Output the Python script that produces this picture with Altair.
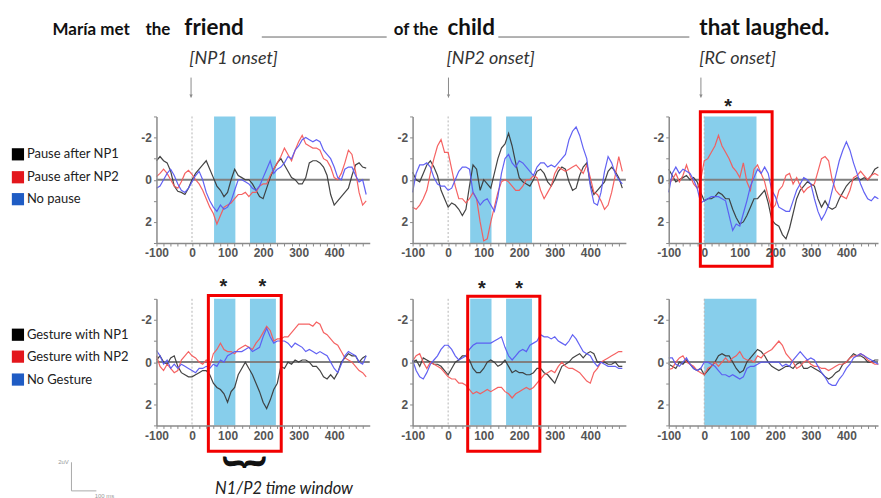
import altair as alt
import pandas as pd

# ---------------- data (µV, negative plotted upward) ----------------
TIME = list(range(-100, 500, 10))  # ms, 60 samples

P1_BLACK = [-0.9, -1.1, -0.9, -0.8, -0.4, 0.3, 0.55, 0.6, 0.7, 0.4,
            0.0, -0.3, -0.5, -0.7, -0.9, -0.5, -0.1, 0.3, 0.5, 0.8,
            0.6, 0.0, -0.5, -0.2, -0.1, 0.0, 0.0, 0.2, 0.5, 0.8,
            0.9, 0.4, -0.1, -0.5, -0.8, -1.0, -0.7, -0.4, -0.1, 0.0,
            0.2, 0.2, -0.1, -0.8, -0.9, -0.9, -0.8, -0.6, -0.2, 0.7,
            1.2, 1.0, 0.8, 0.6, 0.4, -0.2, -0.7, -0.8, -0.6, -0.55]
P1_RED = [-0.15, -0.3, -0.5, -0.3, 0.0, 0.3, 0.4, 0.1, -0.3, -0.45,
          -0.25, 0.0, 0.2, 0.5, 0.9, 1.3, 1.6, 2.1, 1.7, 1.3,
          1.2, 1.1, 0.9, 0.7, 0.7, 0.6, 0.8, 0.6, 0.6, 0.3,
          0.2, 0.2, -0.2, -0.5, -0.8, -1.1, -1.5, -1.2, -0.9, -1.4,
          -1.8, -2.1, -1.7, -1.6, -1.5, -1.5, -1.4, -1.0, -0.9, -0.6,
          -0.1, 0.0, -0.3, -0.8, -1.4, -1.2, -0.4, 0.6, 1.2, 1.0]
P1_BLUE = [0.4, 0.3, 0.0, -0.3, -0.5, -0.2, 0.2, 0.5, 0.6, 0.4,
           0.1, -0.2, -0.4, 0.0, 0.6, 1.0, 1.3, 1.5, 1.2, 1.4,
           1.3, 1.0, 0.5, 0.0, 0.0, 0.1, 0.2, 0.4, 0.5, 0.3,
           -0.1, -0.5, -0.9, -0.3, -0.5, -0.6, -0.8, -1.1, -1.0, -1.4,
           -1.6, -1.9, -2.0, -1.9, -1.8, -1.9, -1.8, -1.4, -1.2, -1.0,
           -0.6, -0.1, 0.0, -0.5, -0.6, -0.6, -0.2, 0.1, 0.0, 0.7]

P2_BLACK = [-0.35, 0.0, 0.1, -0.3, -0.7, -0.9, -0.6, -0.2, 0.5, 0.9,
            1.3, 1.1, 1.2, 1.4, 1.7, 1.4, 0.3, -0.7, -0.5, 0.5,
            0.0, 0.2, 0.4, -0.3, -1.0, -1.5, -1.7, -2.2, -1.6, -0.8,
            -0.1, 0.1, 0.2, 0.3, 0.0, -0.4, -0.5, -0.3, 0.1, 0.3,
            0.0, -0.4, -0.6, -0.5, 0.1, 0.5, 0.4, -0.2, -0.6, -0.8,
            0.2, 0.7, 0.5, 0.3, 0.1, -0.4, -0.6, -0.4, -0.1, 0.4]
P2_RED = [1.3, 1.4, 1.2, 0.9, 0.5, -0.3, -1.0, -1.6, -1.9, -1.3,
          -1.3, -0.5, 0.3, 0.9, 0.9, 1.1, 0.9, 0.6, 0.9, 2.0,
          2.9, 2.8, 2.0, 1.3, 0.6, 0.1, 0.0, 0.1, 0.3, 0.5,
          0.5, 0.3, 0.0, 0.0, -0.2, -0.1, 0.5, 0.9, 0.6, 0.3,
          -0.3, -0.6, -0.5, -0.4, -0.5, -0.6, -0.7, -0.5, -0.3, -0.7,
          -0.1, 0.6, 0.7, 1.0, 1.4, 1.2, 0.6, -0.2, -1.1, -0.4]
P2_BLUE = [0.6, -0.3, -0.7, -0.7, -0.8, -0.6, -0.1, 0.2, 0.3, 0.3,
           0.5, 0.4, 0.0, -0.4, -0.6, -0.6, -0.5, 0.6, 0.9, 1.2,
           1.0, 0.9, 1.2, 1.5, 0.8, -0.3, -1.0, -1.2, -0.8, -0.6,
           -0.9, -0.8, -0.6, -0.4, -0.2, -0.6, -0.8, -0.8, -0.6, -0.7,
           -0.6, -0.8, -1.0, -1.2, -1.9, -2.3, -2.5, -2.1, -1.5, -1.0,
           0.3, 1.1, 1.2, 0.6, -0.4, -1.1, -0.8, -0.3, 0.0, 0.2]

P3_BLACK = [-0.5, -0.2, 0.1, 0.0, -0.1, -0.2, 0.0, -0.1, 0.1, 0.6,
            1.0, 0.9, 0.9, 0.8, 0.6, 0.7, 0.9, 0.9, 1.4, 1.8,
            2.1, 2.0, 1.7, 1.3, 0.9, 0.9, 0.7, 0.5, 1.1, 1.9,
            2.1, 2.2, 2.6, 2.8, 2.3, 1.6, 0.9, 0.5, 0.3, 0.1,
            0.2, 0.3, 0.9, 1.3, 1.0, 1.3, 1.4, 1.3, 0.9, 0.6,
            0.3, 0.1, 0.0, -0.1, 0.0, -0.1, 0.0, -0.2, -0.5, -0.6]
P3_RED = [0.2, 0.0, -0.3, 0.1, -0.2, -0.7, -0.2, 0.2, 0.4, 0.0,
          -0.9, -1.0, -1.3, -1.6, -2.1, -1.6, -1.3, -1.0, -0.6, -0.4,
          -0.1, -0.8, 0.1, 0.5, -0.5, -0.7, -0.3, 0.1, 0.8, 1.4,
          1.2, 0.5, 0.3, -0.2, -0.3, 0.2, -0.1, 0.3, 0.6, 0.4,
          0.3, 0.2, -0.4, -1.0, -1.1, -0.9, 0.0, 0.5, 0.7, 0.8,
          0.9, 0.5, -0.1, -0.2, -0.4, -0.2, 0.0, -0.2, -0.3, -0.2]
P3_BLUE = [0.6, -0.3, -0.6, -0.3, -0.5, -0.4, -0.3, 0.0, 0.4, 1.1,
           1.0, 0.9, 0.8, 0.8, 0.8, 0.9, 1.0, 1.7, 2.4, 2.1,
           2.2, 1.6, 1.0, 0.3, -0.1, -0.5, -0.3, -0.6, -0.3, 0.5,
           0.8, 1.3, 1.4, 1.5, 1.5, 1.0, 0.5, 0.2, -0.1, 0.0,
           0.2, 0.9, 1.5, 1.9, 1.6, 1.2, 0.5, -0.2, -0.9, -1.4,
           -1.8, -1.4, -0.8, -0.3, 0.2, 0.6, 0.9, 1.0, 0.8, 0.9]

P4_BLACK = [-0.1, -0.3, 0.0, 0.1, -0.2, -0.3, 0.2, 0.5, 0.6, 0.7,
            0.7, 0.6, 0.5, 0.4, 0.4, 0.6, 1.0, 1.2, 1.3, 1.5,
            1.9, 1.4, 1.2, 0.6, 0.3, 0.0, 0.3, 0.6, 1.0, 1.4,
            1.9, 2.2, 1.8, 1.3, 1.0, 0.2, 0.3, 0.0, 0.1, -0.1,
            0.0, -0.1, -0.1, 0.0, 0.2, 0.2, 0.4, 0.7, 0.8, 0.6,
            0.8, 0.5, 0.0, -0.2, -0.4, -0.3, -0.3, 0.0, -0.2, -0.3]
P4_RED = [-0.3, 0.2, 0.4, 0.1, 0.3, 0.5, 0.4, -0.1, -0.3, -0.5,
          -0.3, -0.2, 0.0, 0.1, -0.1, 0.2, -0.4, -0.6, -0.9, -0.6,
          -0.5, -0.5, -0.4, -0.6, -0.7, -0.8, -0.7, -0.6, -0.9, -1.1,
          -1.4, -1.7, -1.5, -1.0, -1.1, -1.1, -1.2, -1.2, -1.4, -1.6,
          -1.8, -1.8, -1.8, -1.8, -1.7, -1.9, -1.8, -1.4, -1.3, -1.1,
          -0.9, -0.8, -0.5, -0.2, -0.1, 0.0, 0.2, 0.4, 0.5, 0.7]
P4_BLUE = [-0.55, -0.3, 0.1, -0.1, 0.3, 0.1, 0.3, 0.1, 0.2, 0.3,
           0.4, 0.5, 0.3, 0.3, 0.2, 0.3, 0.1, 0.2, -0.1, 0.0,
           -0.3, -0.4, -0.5, -0.5, -0.5, -0.6, -0.7, -0.5, -0.6, -0.7,
           -1.2, -1.6, -1.2, -0.9, -1.0, -1.0, -1.0, -0.9, -0.7, -0.9,
           -0.8, -0.7, -0.5, -0.6, -0.5, -0.4, -0.5, -0.4, -0.3, 0.0,
           0.3, 0.5, 0.1, -0.3, -0.5, -0.4, -0.3, 0.0, 0.1, -0.3]

P5_BLACK = [0.0, -0.1, 0.2, -0.2, -0.1, 0.0, 0.1, 0.1, 0.2, 0.4,
            0.6, 0.3, 0.0, -0.1, -0.3, -0.3, -0.1, 0.3, 0.5, 0.5,
            0.3, 0.0, -0.1, 0.0, 0.2, 0.1, -0.1, 0.2, 0.5, 0.4,
            0.5, 0.5, 0.6, 0.6, 0.5, 0.3, 0.3, 0.5, 0.6, 0.8,
            1.0, 0.6, 0.2, 0.1, 0.0, -0.2, -0.3, -0.4, -0.2, -0.4,
            -0.5, -0.4, 0.0, 0.0, 0.0, 0.1, 0.1, 0.0, 0.2, 0.2]
P5_RED = [-0.05, -0.3, -0.4, 0.0, 0.3, 0.0, 0.1, 0.2, 0.3, 0.5,
          0.7, 0.8, 0.8, 1.0, 1.0, 1.1, 1.3, 1.5, 1.4, 1.5,
          1.4, 1.3, 1.4, 1.3, 1.2, 1.2, 1.4, 1.5, 1.7, 1.5,
          1.4, 1.3, 1.2, 1.3, 1.2, 1.0, 0.8, 0.6, 0.5, 0.4,
          0.5, 0.2, 0.0, 0.2, 0.3, 0.3, 0.4, 0.5, 0.7, 0.9,
          1.0, 0.5, 0.3, 0.0, -0.1, -0.2, -0.3, -0.4, -0.5, -0.5]
P5_BLUE = [-0.1, 0.4, 0.7, 0.8, 0.5, 0.1, -0.1, -0.3, -0.6, -0.8,
           -0.8, -0.6, -0.3, -0.1, -0.2, -0.3, -0.6, -0.8, -0.9, -0.9,
           -0.9, -0.9, -0.9, -1.0, -1.1, -1.2, -0.7, -0.3, -0.1, -0.3,
           -0.5, -0.6, -0.5, -0.8, -0.9, -1.0, -1.3, -1.2, -1.2, -1.1,
           -1.2, -1.0, -0.9, -0.8, -1.0, -1.3, -1.1, -0.8, -0.5, -0.4,
           -0.3, 0.0, 0.2, 0.0, 0.1, 0.2, 0.2, 0.2, 0.3, 0.3]

P6_BLACK = [0.1, 0.2, 0.3, 0.0, 0.1, -0.1, 0.1, 0.3, 0.4, 0.3,
            0.6, 0.4, 0.2, 0.0, -0.3, -0.4, -0.3, -0.3, 0.0, 0.3,
            0.5, 0.4, 0.0, -0.2, -0.4, -0.6, -0.5, -0.3, 0.0, 0.2,
            0.3, 0.4, 0.3, 0.2, 0.2, 0.3, 0.1, 0.0, 0.3, 0.3,
            0.2, 0.3, 0.4, 0.5, 0.7, 0.8, 0.7, 0.5, 0.4, 0.1,
            0.0, -0.2, -0.4, -0.3, -0.3, -0.2, 0.0, 0.0, -0.1, -0.1]
P6_RED = [0.35, 0.3, 0.0, -0.2, -0.3, 0.0, 0.1, 0.2, 0.4, 0.5,
          0.6, 0.3, 0.2, 0.0, 0.2, 0.0, -0.2, 0.0, -0.2, -0.3,
          -0.5, -0.2, -0.1, -0.1, 0.0, -0.3, -0.2, -0.4, -0.5, -0.6,
          -0.8, -1.0, -0.8, -0.4, -0.2, 0.0, 0.3, 0.2, 0.0, -0.1,
          0.1, 0.2, 0.2, 0.3, 0.3, 0.4, 0.3, 0.2, 0.1, 0.1,
          0.0, -0.2, -0.3, -0.3, -0.4, -0.3, -0.1, 0.0, 0.1, 0.1]
P6_BLUE = [-0.2, -0.2, 0.1, 0.2, 0.0, -0.2, 0.1, 0.3, 0.4, 0.3,
           0.0, 0.0, 0.1, 0.2, 0.4, 0.6, 0.6, 0.7, 0.6, 0.7,
           0.8, 0.7, 0.3, 0.2, 0.2, 0.1, 0.0, 0.0, 0.0, 0.0,
           0.0, 0.0, 0.2, 0.1, 0.2, -0.1, -0.3, -0.5, -0.3, -0.1,
           -0.2, -0.1, 0.2, 0.5, 0.7, 1.0, 1.1, 1.1, 0.8, 0.6,
           0.3, 0.1, -0.2, -0.3, -0.4, -0.3, -0.2, -0.1, 0.0, 0.1]

# analysis windows (ms) and significance marks
WINDOWS_NP = [[62, 122], [163, 236]]
WINDOWS_RC = [[0, 147]]
BOX_P3 = [-11, 191, -3.22, 4.1]
BOX_P4 = [46, 251, -3.16, 4.22]
BOX_P5 = [55, 258, -3.12, 4.22]
STARS_P3 = ([67], -3.68)
STARS_P4 = ([88, 198], -3.78)
STARS_P5 = ([95, 200], -3.7)

CONDS = ["c1", "c2", "c3"]
LINE_COLORS = ["#3a3a3a", "#f45a5a", "#5a5af2"]

# text annotations (figure pixel positions)
HEAD_SMALL = ["María met", "the", "of the"]
HEAD_SMALL_X = [52.7, 146, 395]
HEAD_BIG = ["friend", "child", "that laughed."]
HEAD_BIG_X = [185, 449, 701.7]
HEAD_Y = 34.7
ONSETS = ["[NP1 onset]", "[NP2 onset]", "[RC onset]"]
ONSETS_X = [190, 448, 701.7]
ONSETS_Y = 63
ARROWS_X = [191.7, 450, 703.3]
BLANKS_X1 = [262.7, 500]
BLANKS_X2 = [388, 691.7]
BLANK_Y = 36.3
LEG_TOP = ["Pause after NP1", "Pause after NP2", "No pause"]
LEG_TOP_Y = [154, 177, 199]
LEG_BOT = ["Gesture with NP1", "Gesture with NP2", "No Gesture"]
LEG_BOT_Y = [335, 357, 380]
LEG_COLORS = ["#000000", "#e3161c", "#1f5cc4"]

W, WR, H = 214, 210, 127
ORIGIN_P1 = (157, 116)
ORIGIN_P4 = (157, 299)

AXIS_STYLE = dict(title=None, grid=False, domainColor="#8a8a8a", domainWidth=1.5,
                  tickColor="#8a8a8a", tickSize=3, labelColor="#555555",
                  labelFont="Liberation Sans", labelFontSize=12, labelFontWeight="bold",
                  labelPadding=2, labelOverlap=False, zindex=1)
XAX = alt.Axis(values=list(range(-100, 500, 20)),
               labelExpr="datum.value % 100 == 0 ? '' + datum.value : ''",
               labelFlush=False, **AXIS_STYLE)
YAX = alt.Axis(values=[-3, -2, -1, 0, 1, 2, 3],
               labelExpr="datum.value % 2 == 0 ? '' + datum.value : ''", **AXIS_STYLE)


def local(df, origin):
    df = df.copy()
    for c in list(df.columns):
        if c.startswith("fx"):
            df["px" + c[2:]] = df[c] - origin[0]
        if c.startswith("fy"):
            df["py" + c[2:]] = df[c] - origin[1]
    return df


def pix_text(df, **mark):
    return alt.Chart(df).mark_text(**mark).encode(
        x=alt.X("px:Q", scale=None, axis=None),
        y=alt.Y("py:Q", scale=None, axis=None),
        text="txt:N")


def pix_rule(df, **mark):
    return alt.Chart(df).mark_rule(**mark).encode(
        x=alt.X("px:Q", scale=None, axis=None), x2=alt.X2("px2"),
        y=alt.Y("py:Q", scale=None, axis=None), y2=alt.Y2("py2"))


def annotations_top():
    o = ORIGIN_P1
    layers = []
    anchor = local(pd.DataFrame({"fx": [0], "fx2": [881], "fy": [0], "fy2": [498]}), o)
    layers.append(alt.Chart(anchor).mark_rect(opacity=0).encode(
        x=alt.X("px:Q", scale=None, axis=None), x2=alt.X2("px2"),
        y=alt.Y("py:Q", scale=None, axis=None), y2=alt.Y2("py2")))
    small = local(pd.DataFrame({"txt": HEAD_SMALL, "fx": HEAD_SMALL_X, "fy": [HEAD_Y] * 3}), o)
    layers.append(pix_text(small, font="Lato", fontSize=17, fontWeight="bold",
                           align="left", baseline="alphabetic", color="#111111"))
    big = local(pd.DataFrame({"txt": HEAD_BIG, "fx": HEAD_BIG_X, "fy": [HEAD_Y] * 3}), o)
    layers.append(pix_text(big, font="Lato", fontSize=22.5, fontWeight="bold",
                           align="left", baseline="alphabetic", color="#111111"))
    ons = local(pd.DataFrame({"txt": ONSETS, "fx": ONSETS_X, "fy": [ONSETS_Y] * 3}), o)
    layers.append(pix_text(ons, font="Lato", fontSize=18, fontStyle="italic",
                           align="left", baseline="alphabetic", color="#333333"))
    blanks = local(pd.DataFrame({"fx": BLANKS_X1, "fx2": BLANKS_X2,
                                 "fy": [BLANK_Y] * 2, "fy2": [BLANK_Y] * 2}), o)
    layers.append(pix_rule(blanks, color="#666666", strokeWidth=1))
    arrows = local(pd.DataFrame({"fx": ARROWS_X, "fx2": ARROWS_X,
                                 "fy": [77] * 3, "fy2": [97] * 3}), o)
    layers.append(pix_rule(arrows, color="#8a8a8a", strokeWidth=1))
    heads = local(pd.DataFrame({"fx": ARROWS_X, "fy": [95.5] * 3}), o)
    layers.append(alt.Chart(heads).mark_point(shape="triangle-down", filled=True, size=12,
                                               color="#8a8a8a", opacity=1).encode(
        x=alt.X("px:Q", scale=None, axis=None), y=alt.Y("py:Q", scale=None, axis=None)))
    leg = local(pd.DataFrame({"txt": LEG_TOP + LEG_BOT, "fx": [27] * 6,
                              "fy": LEG_TOP_Y + LEG_BOT_Y, "col": LEG_COLORS * 2}), o)
    layers.append(alt.Chart(leg).mark_square(size=150, filled=True, opacity=1).encode(
        x=alt.X("sx:Q", scale=None, axis=None), y=alt.Y("py:Q", scale=None, axis=None),
        color=alt.Color("col:N", scale=None)).transform_calculate(sx="datum.px - 9"))
    layers.append(pix_text(leg, font="Lato", fontSize=13, align="left",
                           baseline="middle", color="#222222"))
    bar = local(pd.DataFrame({"fx": [71.7, 71.7], "fx2": [71.7, 96.7],
                              "fy": [463, 491.7], "fy2": [491.7, 491.7]}), o)
    layers.append(pix_rule(bar, color="#aaaaaa", strokeWidth=1))
    bar_txt = local(pd.DataFrame({"txt": ["2uV"], "fx": [69], "fy": [463]}), o)
    layers.append(pix_text(bar_txt, font="Liberation Sans", fontSize=6, align="right",
                           baseline="middle", color="#999999"))
    bar_txt2 = local(pd.DataFrame({"txt": ["100 ms"], "fx": [95], "fy": [496.5]}), o)
    layers.append(pix_text(bar_txt2, font="Liberation Sans", fontSize=6, align="left",
                           baseline="middle", color="#999999"))
    return layers


def annotations_bottom():
    o = ORIGIN_P4
    brace = local(pd.DataFrame({"txt": ["}"], "fx": [245], "fy": [463]}), o)
    txt = local(pd.DataFrame({"txt": ["N1/P2 time window"], "fx": [285], "fy": [495]}), o)
    return [
        pix_text(brace, font="Lato", fontSize=46, fontWeight="bold", angle=90,
                 align="center", baseline="middle", color="#111111"),
        pix_text(txt, font="Lato", fontSize=16.5, fontStyle="italic", align="center",
                 baseline="alphabetic", color="#222222"),
    ]


def panel(black, red, blue, windows, xmax, width, box=None, stars=None, extra=None):
    xs = alt.Scale(domain=[-100, xmax], nice=False, zero=False)
    ys = alt.Scale(domain=[-3, 3], reverse=True, nice=False, zero=False)

    rows = []
    for c, vals in zip(CONDS, [black, red, blue]):
        for t, v in zip(TIME, vals):
            rows.append({"t": t, "v": v, "cond": c})
    tr = pd.DataFrame(rows)

    win = pd.DataFrame({"x1": [w[0] for w in windows], "x2": [w[1] for w in windows],
                        "y1": [-3] * len(windows), "y2": [3] * len(windows)})
    layers = [
        alt.Chart(win).mark_rect(color="#87CEEB", opacity=1).encode(
            x=alt.X("x1:Q", scale=xs, axis=XAX), x2="x2",
            y=alt.Y("y1:Q", scale=ys, axis=YAX), y2="y2"),
        alt.Chart(pd.DataFrame({"x1": [-100], "x2": [xmax], "y": [0]})).mark_rule(
            color="#808080", strokeWidth=2).encode(
            x=alt.X("x1:Q", scale=xs, axis=XAX), x2="x2",
            y=alt.Y("y:Q", scale=ys, axis=YAX)),
        alt.Chart(pd.DataFrame({"x": [0], "y1": [-3], "y2": [3]})).mark_rule(
            color="#b5b5b5", strokeWidth=1, strokeDash=[2, 2]).encode(
            x=alt.X("x:Q", scale=xs, axis=XAX),
            y=alt.Y("y1:Q", scale=ys, axis=YAX), y2="y2"),
        alt.Chart(tr).mark_line(strokeWidth=1.2, opacity=0.95).encode(
            x=alt.X("t:Q", scale=xs, axis=XAX),
            y=alt.Y("v:Q", scale=ys, axis=YAX),
            color=alt.Color("cond:N", scale=alt.Scale(domain=CONDS, range=LINE_COLORS),
                            legend=None),
            detail="cond:N"),
    ]
    if box is not None:
        bdf = pd.DataFrame({"x1": [box[0]], "x2": [box[1]], "y1": [box[2]], "y2": [box[3]]})
        layers.append(alt.Chart(bdf).mark_rect(fillOpacity=0, stroke="#f20000",
                                               strokeWidth=3).encode(
            x=alt.X("x1:Q", scale=xs, axis=XAX), x2="x2",
            y=alt.Y("y1:Q", scale=ys, axis=YAX), y2="y2"))
    if stars is not None:
        sdf = pd.DataFrame({"t": stars[0], "v": [stars[1]] * len(stars[0])})
        layers.append(alt.Chart(sdf).mark_text(text="*", font="Liberation Sans",
                                               fontSize=20, fontWeight="bold",
                                               baseline="middle", dy=5,
                                               color="#222222").encode(
            x=alt.X("t:Q", scale=xs, axis=XAX), y=alt.Y("v:Q", scale=ys, axis=YAX)))
    if extra:
        layers.extend(extra)
    return alt.layer(*layers).properties(width=width, height=H)


p1 = panel(P1_BLACK, P1_RED, P1_BLUE, WINDOWS_NP, 500, W, extra=annotations_top())
p2 = panel(P2_BLACK, P2_RED, P2_BLUE, WINDOWS_NP, 500, W)
p3 = panel(P3_BLACK, P3_RED, P3_BLUE, WINDOWS_RC, 489, WR, box=BOX_P3, stars=STARS_P3)
p4 = panel(P4_BLACK, P4_RED, P4_BLUE, WINDOWS_NP, 500, W, box=BOX_P4, stars=STARS_P4,
           extra=annotations_bottom())
p5 = panel(P5_BLACK, P5_RED, P5_BLUE, WINDOWS_NP, 500, W, box=BOX_P5, stars=STARS_P5)
p6 = panel(P6_BLACK, P6_RED, P6_BLUE, WINDOWS_RC, 489, WR)

chart = alt.concat(p1, p2, p3, p4, p5, p6, columns=3,
                   spacing={"row": 56, "column": 43}, bounds="flush").properties(
    padding=0).configure_view(stroke=None)

chart.save("out.html", embed_options={"renderer": "svg", "actions": False})
